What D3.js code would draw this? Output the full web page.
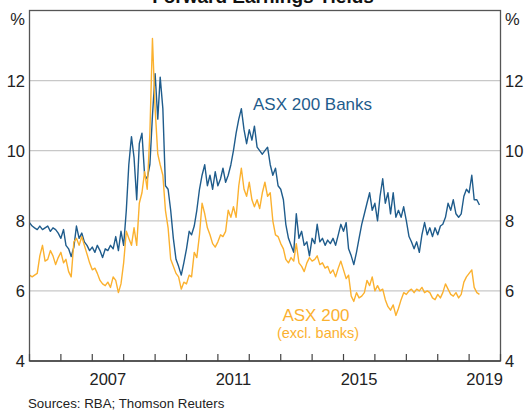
<!DOCTYPE html>
<html><head><meta charset="utf-8">
<script src="https://cdn.jsdelivr.net/npm/d3@7"></script>
<style>body{margin:0;background:#fff}svg{display:block;font-family:"Liberation Sans",Arial,sans-serif}</style>
</head><body><svg id="c" width="527" height="413"></svg>
<script>
const title = "Forward Earnings Yields";
const source = "Sources: RBA; Thomson Reuters";
const startMonth = "2005-01";
const yTicks = [4, 6, 8, 10, 12];
const xLabelYears = [2007, 2011, 2015, 2019];
const banks = [
7.95,7.85,7.8,7.75,7.85,7.75,7.8,7.85,7.7,7.8,7.75,7.65,
7.5,7.75,7.3,7.2,6.98,7.25,7.85,7.5,7.65,7.4,7.3,7.15,
7.25,7.1,7.3,7.15,6.95,7.2,7.15,7.3,7.2,7.55,7.15,7.7,
7.3,8.3,9.6,10.4,9.8,8.6,10.2,10.5,9.3,9.2,9.6,11.0,
12.2,10.9,12.1,11.2,9.0,8.9,8.3,7.5,6.9,6.7,6.45,6.8,
7.2,7.7,7.6,7.85,8.3,8.9,9.3,9.6,9.0,9.3,8.9,9.4,
9.0,9.2,9.5,9.1,9.3,9.6,10.0,10.5,10.9,11.2,10.6,10.2,
10.6,10.3,10.7,10.1,10.0,9.9,10.0,10.1,9.6,9.3,9.5,9.0,
8.9,8.6,7.9,7.5,7.3,7.1,8.2,7.5,7.7,7.3,7.4,7.0,
7.5,7.35,7.9,7.4,7.5,7.3,7.45,7.35,7.5,7.3,7.6,7.9,
7.7,7.95,7.2,7.0,6.75,7.1,7.5,7.9,8.2,8.5,8.8,8.3,
8.5,8.0,8.7,9.2,8.5,8.8,8.2,8.8,8.1,8.3,8.1,8.4,
8.0,7.55,7.4,7.2,7.4,7.1,7.6,7.95,7.6,7.8,7.55,7.8,
7.6,7.85,7.9,8.1,8.5,8.3,8.6,8.2,8.1,8.2,8.7,8.9,
8.8,9.3,8.6,8.6,8.45];
const exBanks = [
6.45,6.4,6.45,6.5,7.0,7.3,6.85,6.9,7.15,7.0,6.75,6.95,
7.1,6.8,6.9,6.55,6.4,7.4,7.5,7.3,7.55,7.3,7.05,6.8,
6.6,6.65,6.5,6.3,6.2,6.15,6.25,6.1,6.4,6.3,5.95,6.2,
6.8,7.7,7.5,7.3,7.8,7.3,8.5,8.8,9.4,8.9,10.5,13.2,
11.2,9.9,9.6,9.3,8.3,7.8,6.9,6.7,6.5,6.4,6.05,6.25,
6.2,6.45,6.4,7.1,6.95,7.6,8.5,8.2,7.8,7.6,7.35,7.25,
7.4,7.6,7.55,7.7,8.3,8.1,8.4,8.1,9.0,9.5,8.9,8.7,
9.1,8.6,8.4,8.6,8.35,8.8,9.1,8.7,8.8,8.0,7.6,7.55,
7.35,7.2,6.9,6.8,6.95,6.85,7.35,6.8,6.7,6.55,6.8,6.95,
6.85,6.9,7.0,6.75,6.8,6.65,6.7,6.5,6.6,6.4,6.65,6.85,
6.6,6.35,6.45,5.85,5.7,5.95,5.8,5.85,5.95,6.3,6.15,6.4,
6.0,6.15,6.0,6.05,5.75,5.55,5.45,5.6,5.3,5.5,5.75,5.95,
5.9,6.0,6.05,5.95,6.05,6.0,6.1,5.95,6.0,5.95,5.8,5.75,
5.9,5.8,5.95,6.2,6.05,5.9,5.85,5.95,5.8,5.9,6.25,6.4,
6.5,6.6,6.1,5.95,5.9];

const BLUE = "#1f5c8c", ORANGE = "#fbb12f";
const svg = d3.select("#c");
const L = 29.5, R = 500.5, T = 10.5, B = 361;
const parse = d3.timeParse("%Y-%m");
const t0 = parse(startMonth);
const dates = banks.map((_, i) => d3.timeMonth.offset(t0, i));
const x = d3.scaleTime().domain([new Date(2005,0,1), new Date(2020,0,1)]).range([L, R]);
const y = d3.scaleLinear().domain([4, 14]).range([B, T]);

// gridlines
svg.append("g").selectAll("line").data(yTicks.filter(v => v > 4)).join("line")
  .attr("x1", L).attr("x2", R).attr("y1", d => y(d)).attr("y2", d => y(d))
  .attr("stroke", "#c8c8c8").attr("stroke-width", 1.2);

// lines
const line = d3.line().x((d, i) => x(dates[i])).y(d => y(d));
svg.append("path").datum(banks).attr("d", line).attr("fill", "none")
  .attr("stroke", BLUE).attr("stroke-width", 1.4).attr("stroke-linejoin", "round");
svg.append("path").datum(exBanks).attr("d", line).attr("fill", "none")
  .attr("stroke", ORANGE).attr("stroke-width", 1.4).attr("stroke-linejoin", "round");

// frame
svg.append("rect").attr("x", L).attr("y", T).attr("width", R - L).attr("height", B - T)
  .attr("fill", "none").attr("stroke", "#555").attr("stroke-width", 1.3);
svg.append("line").attr("x1", L).attr("x2", R).attr("y1", B).attr("y2", B)
  .attr("stroke", "#444").attr("stroke-width", 1.6);

// x ticks (inside, yearly)
const years = d3.range(2005, 2021).map(yr => new Date(yr, 0, 1));
svg.append("g").selectAll("line").data(years).join("line")
  .attr("x1", d => x(d)).attr("x2", d => x(d)).attr("y1", B).attr("y2", B - 7)
  .attr("stroke", "#444").attr("stroke-width", 1.2);
svg.append("g").selectAll("text").data(xLabelYears).join("text")
  .attr("x", d => x(new Date(d, 6, 1))).attr("y", 385).attr("text-anchor", "middle")
  .attr("font-size", 16.5).attr("fill", "#222").text(d => d);

// y labels both sides
const yl = svg.append("g").attr("font-size", 16.5).attr("fill", "#222");
yl.selectAll("text.l").data(yTicks).join("text").attr("class", "l")
  .attr("x", 25).attr("y", d => y(d)).attr("dy", "0.36em").attr("text-anchor", "end").text(d => d);
yl.selectAll("text.r").data(yTicks).join("text").attr("class", "r")
  .attr("x", 505).attr("y", d => y(d)).attr("dy", "0.36em").attr("text-anchor", "start").text(d => d);
yl.append("text").attr("x", 25).attr("y", 25).attr("text-anchor", "end").text("%");
yl.append("text").attr("x", 505).attr("y", 25).attr("text-anchor", "start").text("%");

// title (cut off at top, as in the reference)
svg.append("text").attr("x", 263).attr("y", 3).attr("text-anchor", "middle")
  .attr("font-size", 19).attr("font-weight", "bold").attr("fill", "#111").text(title);

// series labels
svg.append("text").attr("x", 253).attr("y", 110).attr("font-size", 17).attr("fill", BLUE).text("ASX 200 Banks");
svg.append("text").attr("x", 316).attr("y", 321).attr("text-anchor", "middle").attr("font-size", 17).attr("fill", ORANGE).text("ASX 200");
svg.append("text").attr("x", 318).attr("y", 338).attr("text-anchor", "middle").attr("font-size", 14.5).attr("fill", ORANGE).text("(excl. banks)");

// source
svg.append("text").attr("x", 28).attr("y", 408).attr("font-size", 13.3).attr("fill", "#222").text(source);
</script></body></html>
